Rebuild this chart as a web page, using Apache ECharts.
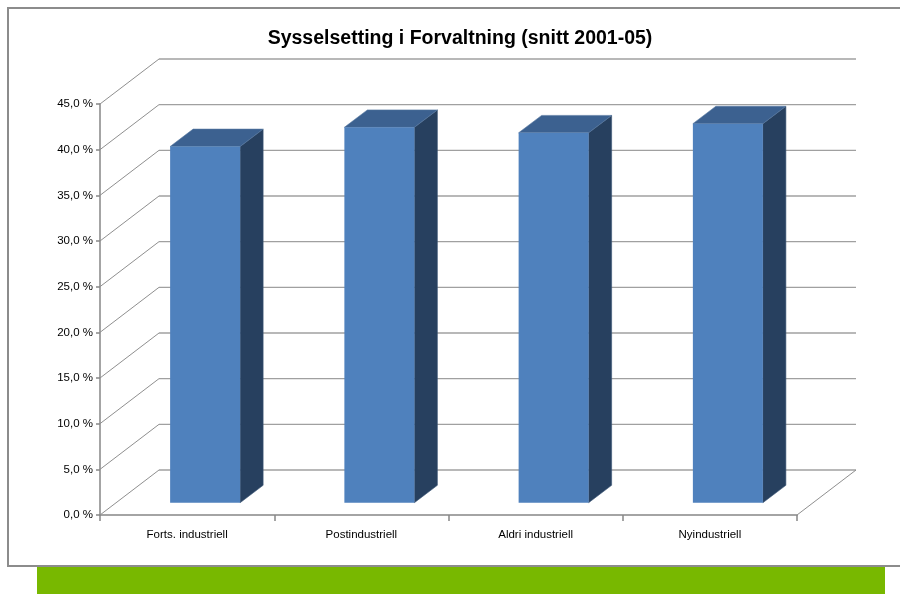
<!DOCTYPE html>
<html><head><meta charset="utf-8">
<script src="https://cdn.jsdelivr.net/npm/echarts@6/dist/echarts.min.js"></script>
<style>html,body{margin:0;padding:0;background:#fff}#c{width:900px;height:594px}</style>
</head><body><div id="c"></div>
<script>
const categories = ['Forts. industriell', 'Postindustriell', 'Aldri industriell', 'Nyindustriell'];
const values = [39.0, 41.1, 40.5, 41.5];
const yTicks = [0, 5, 10, 15, 20, 25, 30, 35, 40, 45];
const titleText = 'Sysselsetting i Forvaltning (snitt 2001-05)';

const WALL = [59, -45];
const BAR_FRONT = [18, -12.3];
const BAR_DEPTH = [23, -17.4];
const BAR_W = 70;
const FONT = 'Liberation Sans';

function gridRender(params, api) {
  const cs = params.coordSys;
  const v = api.value(1);
  const y = api.coord([0, v])[1];
  const x0 = cs.x, x1 = cs.x + cs.width;
  const children = [
    {type: 'line', shape: {x1: x0, y1: y, x2: x0 + WALL[0], y2: y + WALL[1]}, style: {stroke: '#8f8f8f', lineWidth: 1}},
    {type: 'line', shape: {x1: x0 + WALL[0], y1: y + WALL[1], x2: x1 + WALL[0], y2: y + WALL[1]}, style: {stroke: '#a0a0a0', lineWidth: 1.4}}
  ];
  if (v === 0) {
    children.push({type: 'line', shape: {x1: x1, y1: y, x2: x1 + WALL[0], y2: y + WALL[1]}, style: {stroke: '#8f8f8f', lineWidth: 1}});
  }
  return {type: 'group', children};
}

function barRender(params, api) {
  const i = api.value(0), v = api.value(1);
  const base = api.coord([i, 0]);
  const top = api.coord([i, v]);
  const fx0 = base[0] - BAR_W / 2 + BAR_FRONT[0], fx1 = fx0 + BAR_W;
  const fyb = base[1] + BAR_FRONT[1], fyt = top[1] + BAR_FRONT[1];
  const dx = BAR_DEPTH[0], dy = BAR_DEPTH[1];
  return {type: 'group', children: [
    {type: 'polygon', shape: {points: [[fx1, fyt], [fx1 + dx, fyt + dy], [fx1 + dx, fyb + dy], [fx1, fyb]]}, style: {fill: '#27405F', stroke: '#3a5676', lineWidth: 0.6}},
    {type: 'polygon', shape: {points: [[fx0, fyt], [fx0 + dx, fyt + dy], [fx1 + dx, fyt + dy], [fx1, fyt]]}, style: {fill: '#3C6190', stroke: '#55779f', lineWidth: 0.6}},
    {type: 'rect', shape: {x: fx0, y: fyt, width: BAR_W, height: fyb - fyt}, style: {fill: '#4F81BD'}}
  ]};
}

const chart = echarts.init(document.getElementById('c'), null, {renderer: 'canvas'});
chart.setOption({
  animation: false,
  backgroundColor: '#ffffff',
  title: {
    text: titleText, left: 455, top: 24, textAlign: 'center',
    textStyle: {fontFamily: FONT, fontWeight: 'bold', fontSize: 19.5, color: '#000'}
  },
  graphic: [
    {type: 'rect', shape: {x: 8, y: 8, width: 900, height: 558}, style: {fill: null, stroke: '#8c8c8c', lineWidth: 2}, z: -10},
    {type: 'rect', shape: {x: 37, y: 567, width: 848, height: 27}, style: {fill: '#78B800'}, z: -10}
  ],
  grid: {left: 100, right: 103, top: 104, bottom: 79},
  xAxis: {
    type: 'category', data: categories,
    axisLine: {lineStyle: {color: '#868686', width: 1.5}},
    axisTick: {show: true, length: 6, lineStyle: {color: '#868686', width: 1.5}},
    axisLabel: {fontFamily: FONT, fontSize: 11.5, color: '#000', margin: 14},
    splitLine: {show: false}
  },
  yAxis: {
    type: 'value', min: 0, max: 45, interval: 5,
    axisLine: {show: true, lineStyle: {color: '#868686', width: 1.5}},
    axisTick: {show: true, length: 4, lineStyle: {color: '#868686', width: 1.5}},
    axisLabel: {fontFamily: FONT, fontSize: 11.5, color: '#000', margin: 7,
      formatter: v => v.toFixed(1).replace('.', ',') + ' %'},
    splitLine: {show: false}
  },
  series: [
    {type: 'custom', renderItem: gridRender, data: yTicks.map(t => [0, t]), encode: {x: 0, y: 1}, z: 1, silent: true, clip: false},
    {type: 'custom', renderItem: barRender, data: values.map((v, i) => [i, v]), encode: {x: 0, y: 1}, z: 3, clip: false}
  ]
});
</script>
</body></html>
